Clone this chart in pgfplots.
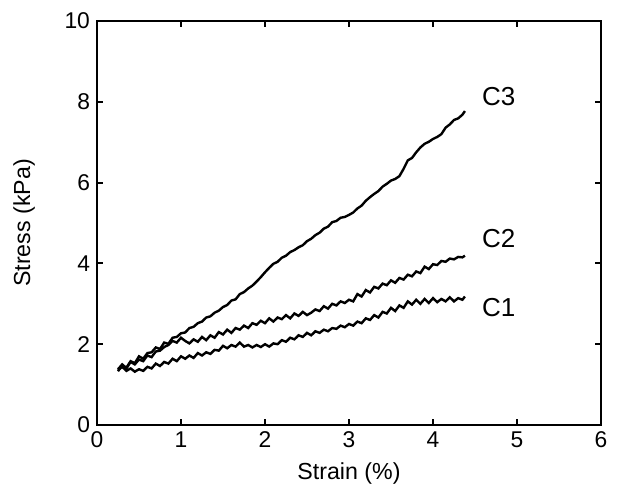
\documentclass[border=0pt]{standalone}
\usepackage{pgfplots}
\pgfplotsset{compat=1.18}
\usepackage{fontspec}
\setmainfont{Liberation Sans}

\pgfplotstableread{
x y
0.25 1.33
0.30 1.48
0.35 1.42
0.40 1.58
0.45 1.53
0.50 1.70
0.55 1.64
0.60 1.78
0.65 1.80
0.70 1.92
0.75 1.88
0.80 2.04
0.85 2.01
0.90 2.16
0.95 2.18
1.00 2.27
1.05 2.29
1.10 2.40
1.15 2.43
1.20 2.52
1.25 2.56
1.30 2.66
1.35 2.69
1.40 2.78
1.45 2.83
1.50 2.92
1.55 2.97
1.60 3.08
1.65 3.11
1.70 3.24
1.75 3.29
1.80 3.38
1.85 3.45
1.90 3.55
1.95 3.66
2.00 3.78
2.05 3.89
2.10 3.99
2.15 4.04
2.20 4.14
2.25 4.19
2.30 4.28
2.35 4.33
2.40 4.40
2.45 4.45
2.50 4.55
2.55 4.61
2.60 4.70
2.65 4.76
2.70 4.86
2.75 4.91
2.80 5.02
2.85 5.05
2.90 5.13
2.95 5.15
3.00 5.20
3.05 5.26
3.10 5.36
3.15 5.43
3.20 5.55
3.25 5.64
3.30 5.72
3.35 5.79
3.40 5.90
3.45 5.97
3.50 6.05
3.55 6.09
3.60 6.16
3.65 6.34
3.70 6.55
3.75 6.61
3.80 6.75
3.85 6.87
3.90 6.96
3.95 7.01
4.00 7.08
4.05 7.13
4.10 7.20
4.15 7.36
4.20 7.44
4.25 7.55
4.30 7.59
4.35 7.68
4.38 7.77
}\cthree

\pgfplotstableread{
x y
0.25 1.38
0.30 1.50
0.35 1.40
0.40 1.56
0.45 1.50
0.50 1.62
0.55 1.58
0.60 1.72
0.65 1.68
0.70 1.82
0.75 1.84
0.80 1.93
0.85 1.98
0.90 2.08
0.95 2.04
1.00 2.16
1.05 2.08
1.10 2.02
1.15 2.12
1.20 2.06
1.25 2.18
1.30 2.10
1.35 2.22
1.40 2.16
1.45 2.30
1.50 2.24
1.55 2.36
1.60 2.28
1.65 2.40
1.70 2.36
1.75 2.46
1.80 2.40
1.85 2.52
1.90 2.48
1.95 2.58
2.00 2.52
2.05 2.64
2.10 2.56
2.15 2.66
2.20 2.62
2.25 2.72
2.30 2.64
2.35 2.76
2.40 2.70
2.45 2.80
2.50 2.72
2.55 2.78
2.60 2.86
2.65 2.82
2.70 2.94
2.75 2.88
2.80 3.00
2.85 2.96
2.90 3.06
2.95 3.02
3.00 3.10
3.05 3.06
3.10 3.24
3.15 3.18
3.20 3.34
3.25 3.28
3.30 3.42
3.35 3.38
3.40 3.50
3.45 3.46
3.50 3.58
3.55 3.52
3.60 3.64
3.65 3.60
3.70 3.72
3.75 3.68
3.80 3.80
3.85 3.76
3.90 3.92
3.95 3.86
4.00 3.98
4.05 3.96
4.10 4.06
4.15 4.04
4.20 4.12
4.25 4.10
4.30 4.16
4.35 4.15
4.38 4.19
}\ctwo

\pgfplotstableread{
x y
0.25 1.36
0.30 1.44
0.35 1.34
0.40 1.40
0.45 1.32
0.50 1.38
0.55 1.34
0.60 1.44
0.65 1.40
0.70 1.52
0.75 1.46
0.80 1.56
0.85 1.52
0.90 1.64
0.95 1.58
1.00 1.70
1.05 1.64
1.10 1.72
1.15 1.66
1.20 1.78
1.25 1.72
1.30 1.80
1.35 1.76
1.40 1.86
1.45 1.84
1.50 1.96
1.55 1.90
1.60 1.98
1.65 1.94
1.70 2.04
1.75 1.94
1.80 1.98
1.85 1.92
1.90 1.98
1.95 1.93
2.00 2.00
2.05 1.94
2.10 2.02
2.15 2.00
2.20 2.10
2.25 2.06
2.30 2.16
2.35 2.12
2.40 2.22
2.45 2.18
2.50 2.28
2.55 2.22
2.60 2.32
2.65 2.28
2.70 2.36
2.75 2.32
2.80 2.40
2.85 2.38
2.90 2.46
2.95 2.42
3.00 2.50
3.05 2.46
3.10 2.56
3.15 2.52
3.20 2.64
3.25 2.60
3.30 2.72
3.35 2.66
3.40 2.80
3.45 2.76
3.50 2.90
3.55 2.82
3.60 2.96
3.65 2.90
3.70 3.06
3.75 2.98
3.80 3.10
3.85 3.00
3.90 3.12
3.95 3.02
4.00 3.14
4.05 3.04
4.10 3.12
4.15 3.06
4.20 3.16
4.25 3.06
4.30 3.14
4.35 3.10
4.38 3.18
}\cone

\begin{document}
\begin{tikzpicture}
\begin{axis}[
    scale only axis,
    width=252pt, height=202pt,
    xmin=0, xmax=6, ymin=0, ymax=10,
    xtick={0,1,2,3,4,5,6},
    ytick={0,2,4,6,8,10},
    tick align=inside,
    major tick length=3pt,
    tick style={black, line width=1pt},
    axis line style={line width=1.1pt},
    ticklabel style={font=\fontsize{11.4}{13}\selectfont},
    /pgf/number format/assume math mode=true,
    label style={font=\fontsize{11.6}{13}\selectfont},
    xlabel={Strain (\%)},
    ylabel={Stress (kPa)},
    xlabel style={yshift=-0.5pt},
    ylabel style={yshift=8pt},
    clip=false,
]
\addplot[black, line width=1.2pt] table[x=x, y=y] {\cone};
\addplot[black, line width=1.2pt] table[x=x, y=y] {\ctwo};
\addplot[black, line width=1.2pt] table[x=x, y=y] {\cthree};
\node[anchor=west, font=\fontsize{13}{15}\selectfont, inner sep=0pt] at (axis cs:4.58,8.13) {C3};
\node[anchor=west, font=\fontsize{13}{15}\selectfont, inner sep=0pt] at (axis cs:4.58,4.62) {C2};
\node[anchor=west, font=\fontsize{13}{15}\selectfont, inner sep=0pt] at (axis cs:4.58,2.90) {C1};
\end{axis}
\pgfresetboundingbox
\path ([shift={(-48.5pt,-30pt)}]current axis.south west) rectangle ([shift={(12pt,10.5pt)}]current axis.north east);
\end{tikzpicture}
\end{document}
